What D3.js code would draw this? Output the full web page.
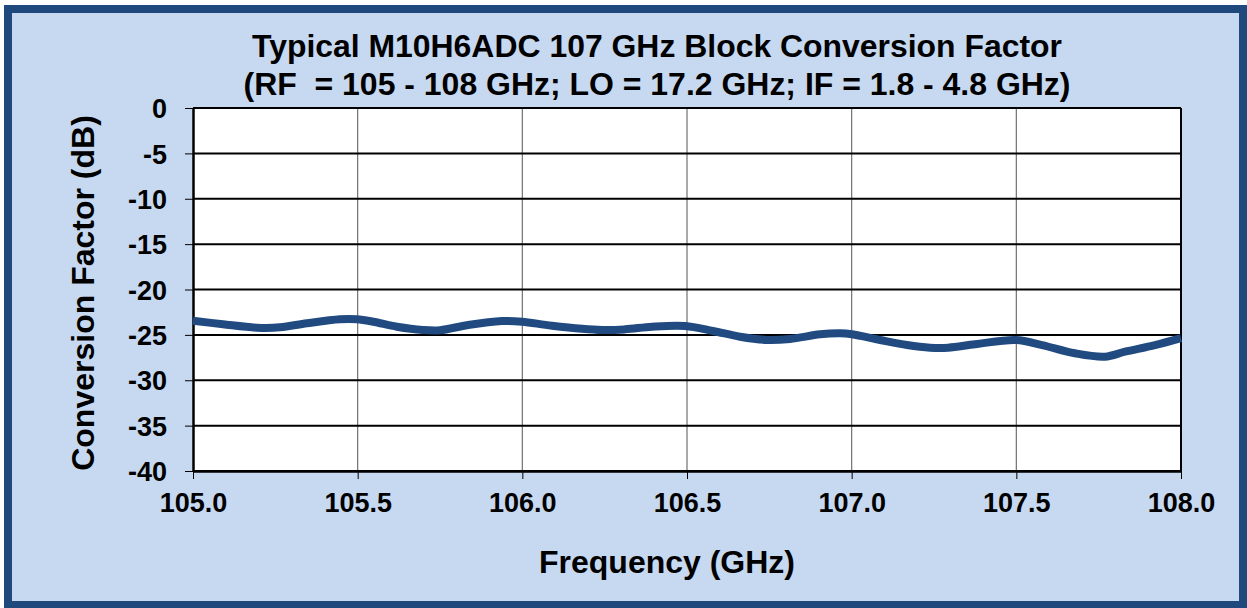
<!DOCTYPE html>
<html>
<head>
<meta charset="utf-8">
<script src="https://cdn.jsdelivr.net/npm/d3@7"></script>
<style>
  body { margin: 0; background: #fff; }
  svg text { font-family: "Liberation Sans", Arial, sans-serif; font-weight: bold; fill: #000; }
</style>
</head>
<body>
<div id="chart"></div>
<script>
// Chart data
var titleLines = [
  "Typical M10H6ADC 107 GHz Block Conversion Factor",
  "(RF  = 105 - 108 GHz; LO = 17.2 GHz; IF = 1.8 - 4.8 GHz)"
];
var xTicks = [105.0, 105.5, 106.0, 106.5, 107.0, 107.5, 108.0];
var yTicks = [0, -5, -10, -15, -20, -25, -30, -35, -40];

var freq = [105.000, 105.091, 105.194, 105.264, 105.346, 105.446, 105.498, 105.547,
  105.619, 105.698, 105.750, 105.835, 105.938, 105.999, 106.090, 106.242, 106.312,
  106.394, 106.494, 106.579, 106.661, 106.743, 106.813, 106.904, 106.965, 107.001,
  107.086, 107.168, 107.238, 107.293, 107.375, 107.499, 107.578, 107.678, 107.769,
  107.830, 107.921, 108.000];
var convFactor = [-23.44, -23.83, -24.21, -24.17, -23.72, -23.28, -23.28, -23.55,
  -24.10, -24.46, -24.49, -23.91, -23.47, -23.55, -23.99, -24.46, -24.39,
  -24.10, -24.02, -24.57, -25.20, -25.56, -25.45, -24.94, -24.83, -24.94,
  -25.56, -26.12, -26.41, -26.41, -26.04, -25.56, -26.12, -27.03, -27.40,
  -26.85, -26.12, -25.35];

// SVG dimensions
var svgWidth = 1247;
var svgHeight = 608;
var margin = { top: 108, right: 66, bottom: 137, left: 193 };
var width = svgWidth - margin.left - margin.right;
var height = svgHeight - margin.top - margin.bottom;

var svg = d3.select("#chart")
  .append("svg")
  .attr("width", svgWidth)
  .attr("height", svgHeight);

// light blue panel with dark blue frame
svg.append("rect")
  .attr("x", 8).attr("y", 9)
  .attr("width", 1235).attr("height", 596)
  .attr("fill", "#c6d9f0")
  .attr("stroke", "#1f497d")
  .attr("stroke-width", 8);

var chartGroup = svg.append("g")
  .attr("transform", `translate(${margin.left}, ${margin.top})`);

chartGroup.append("rect")
  .attr("width", width).attr("height", height)
  .attr("fill", "#fff");

var xScale = d3.scaleLinear().domain([105, 108]).range([0, width]);
var yScale = d3.scaleLinear().domain([-40, 0]).range([height, 0]);

// vertical gridlines (gray)
chartGroup.append("g")
  .selectAll("line")
  .data(xTicks.slice(1, -1))
  .join("line")
  .attr("x1", d => xScale(d)).attr("x2", d => xScale(d))
  .attr("y1", 0).attr("y2", height)
  .attr("stroke", "#707070")
  .attr("stroke-width", 1.2);

// horizontal gridlines (black)
chartGroup.append("g")
  .selectAll("line")
  .data(yTicks)
  .join("line")
  .attr("x1", 0).attr("x2", width)
  .attr("y1", d => yScale(d)).attr("y2", d => yScale(d))
  .attr("stroke", "#000")
  .attr("stroke-width", 2);

// right border
chartGroup.append("line")
  .attr("x1", width).attr("x2", width)
  .attr("y1", 0).attr("y2", height)
  .attr("stroke", "#000").attr("stroke-width", 2);

// axes
var bottomAxis = d3.axisBottom(xScale)
  .tickValues(xTicks)
  .tickFormat(d3.format(".1f"))
  .tickSizeInner(8).tickSizeOuter(0).tickPadding(14);
var leftAxis = d3.axisLeft(yScale)
  .tickValues(yTicks)
  .tickFormat(d => String(d))
  .tickSizeInner(8).tickSizeOuter(0).tickPadding(18);

var xAxisG = chartGroup.append("g")
  .attr("transform", `translate(0, ${height})`)
  .call(bottomAxis);
var yAxisG = chartGroup.append("g").call(leftAxis);

[xAxisG, yAxisG].forEach(g => {
  g.select(".domain").attr("stroke", "#000").attr("stroke-width", 2.5);
  g.selectAll(".tick line").attr("stroke", "#000").attr("stroke-width", 1);
  g.selectAll(".tick text")
    .attr("font-family", "'Liberation Sans', Arial, sans-serif")
    .attr("font-weight", "bold")
    .attr("font-size", "27px")
    .attr("fill", "#000");
});
xAxisG.selectAll(".tick text").attr("dy", "0.7em");
yAxisG.selectAll(".tick text").attr("dy", "0.36em");

// data line
var line = d3.line()
  .x((d, i) => xScale(freq[i]))
  .y(d => yScale(d))
  .curve(d3.curveCatmullRom.alpha(0.5));

chartGroup.append("path")
  .datum(convFactor)
  .attr("d", line)
  .attr("fill", "none")
  .attr("stroke", "#214b80")
  .attr("stroke-width", 8)
  .attr("stroke-linecap", "butt")
  .attr("stroke-linejoin", "round");

// title (condensed, as in the reference)
var titleWidths = [810, 827];
svg.append("g")
  .selectAll("text")
  .data(titleLines)
  .join("text")
  .attr("x", 657)
  .attr("y", (d, i) => 57 + i * 38)
  .attr("text-anchor", "middle")
  .attr("font-size", "31px")
  .attr("textLength", (d, i) => titleWidths[i])
  .attr("lengthAdjust", "spacingAndGlyphs")
  .style("white-space", "pre")
  .text(d => d);

// axis labels
svg.append("text")
  .attr("transform", "translate(94, 293) rotate(-90)")
  .attr("text-anchor", "middle")
  .attr("font-size", "32px")
  .text("Conversion Factor (dB)");

svg.append("text")
  .attr("x", 667)
  .attr("y", 573)
  .attr("text-anchor", "middle")
  .attr("font-size", "32px")
  .text("Frequency (GHz)");
</script>
</body>
</html>
